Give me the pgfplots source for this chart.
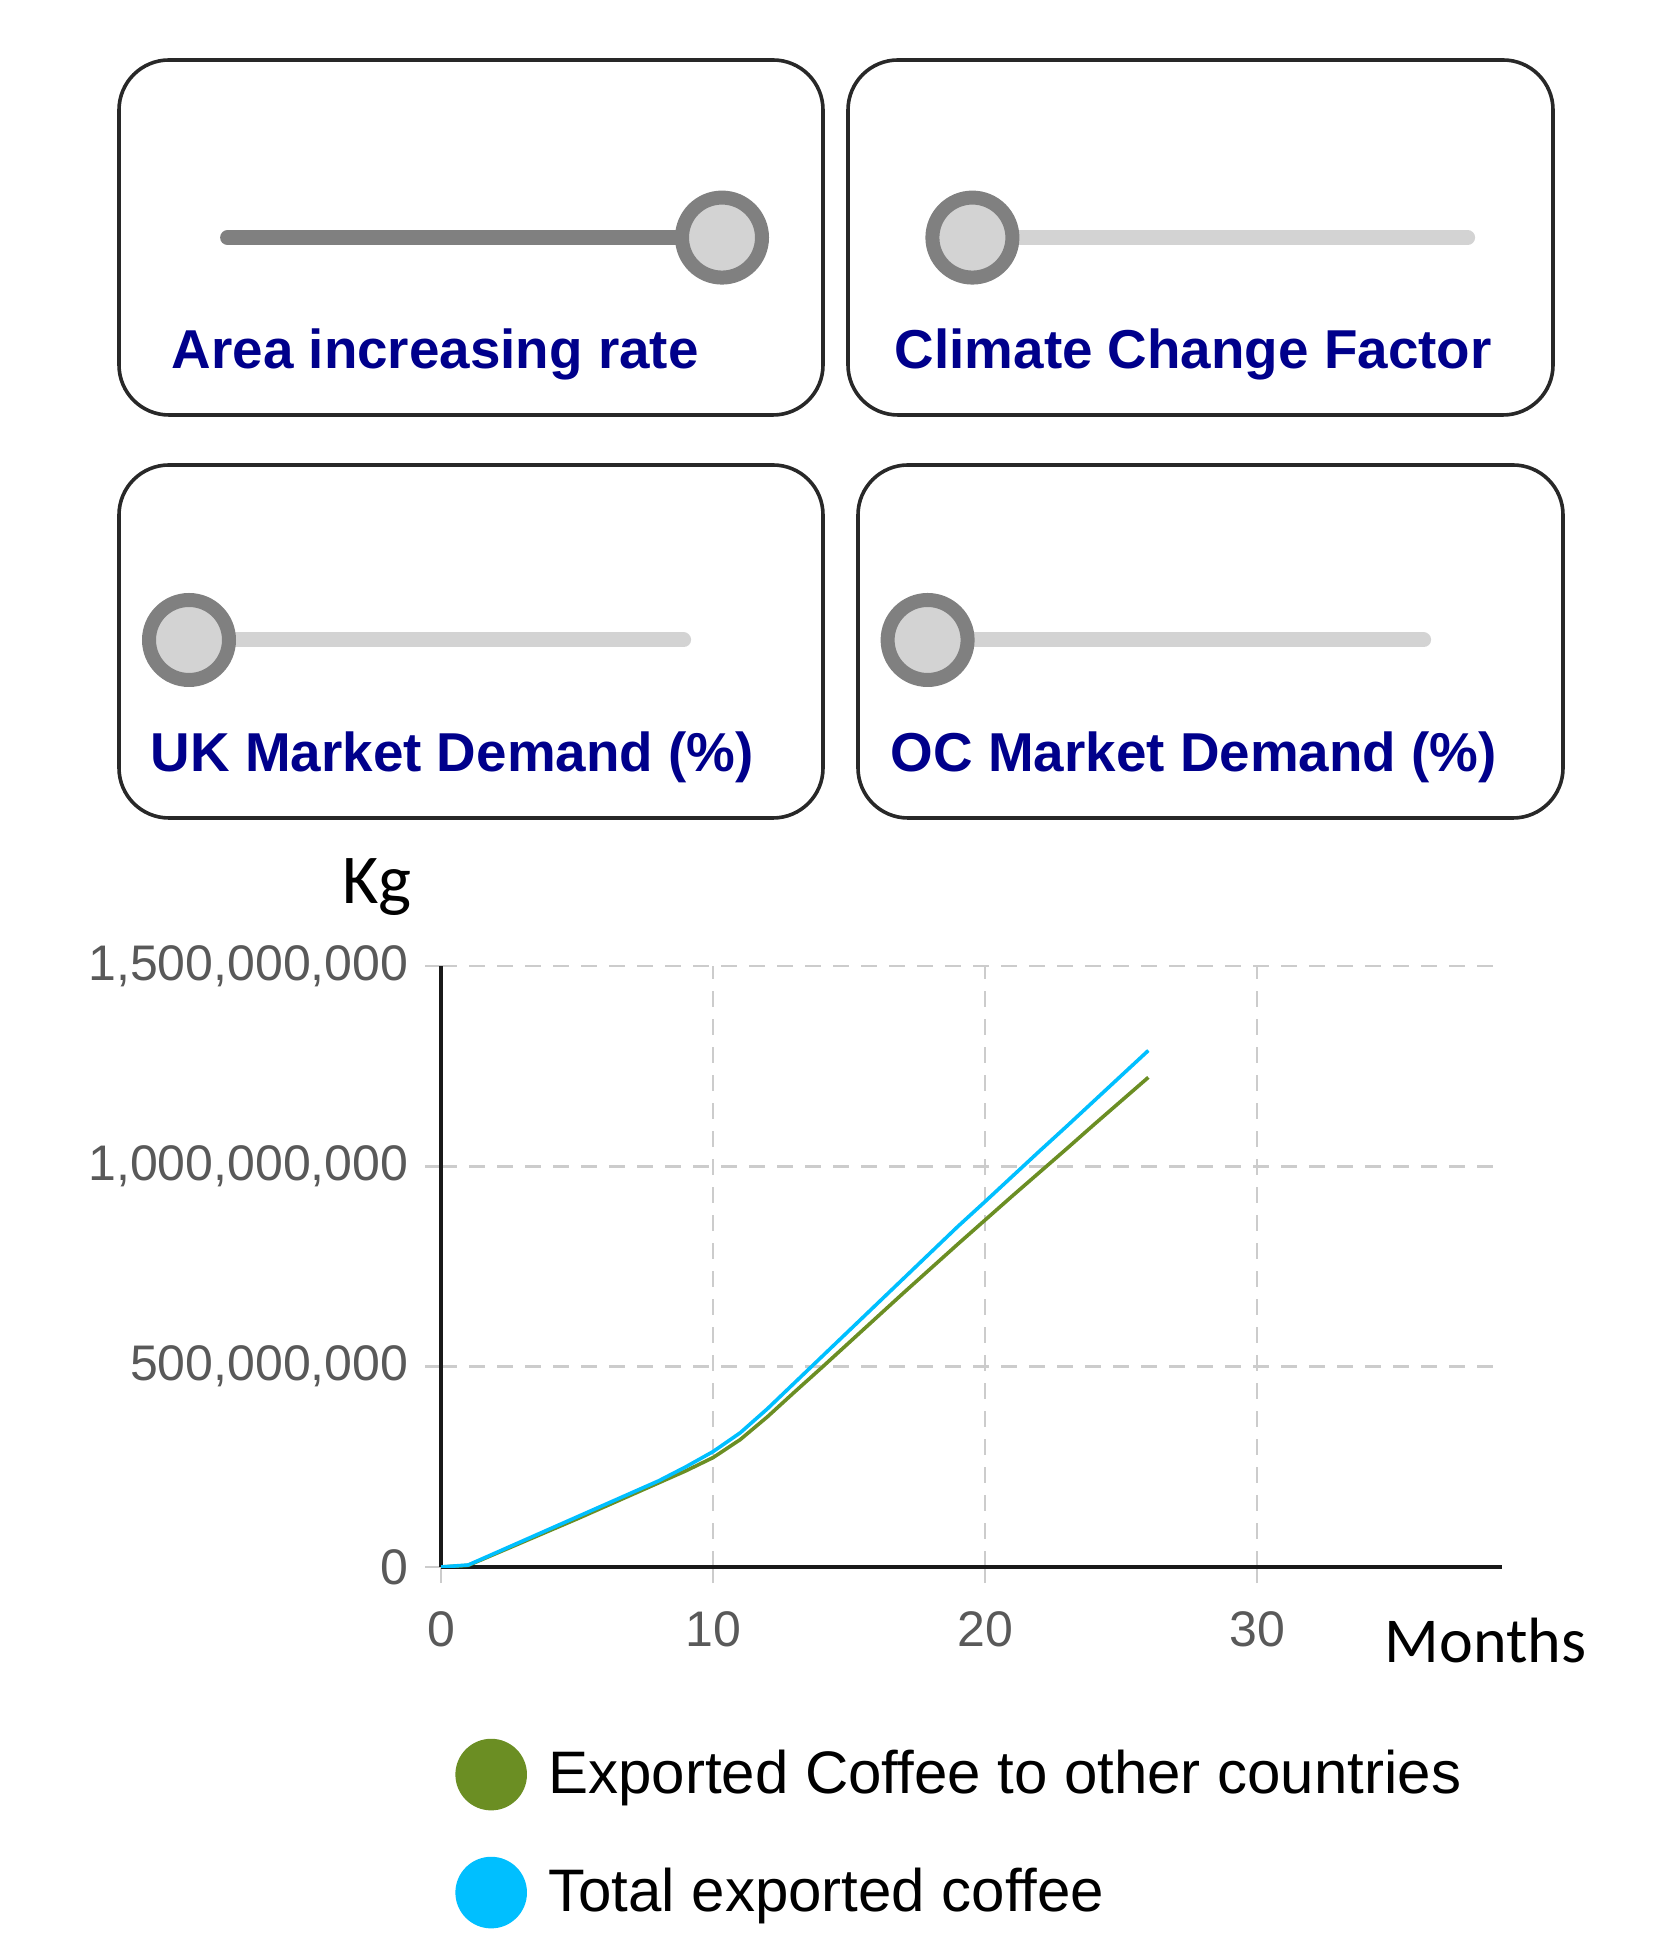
\documentclass[border=0pt]{standalone}
\usepackage{fontspec}
\setmainfont{Liberation Sans}
\newfontfamily\calibri{Carlito}
\usepackage{pgfplots}
\usepackage{pgfplotstable}
\pgfplotsset{compat=1.18}

\definecolor{navytext}{RGB}{0,0,139}
\definecolor{knobring}{RGB}{128,128,128}
\definecolor{knobfill}{RGB}{211,211,211}
\definecolor{olivegreen}{RGB}{107,142,35}
\definecolor{skyblue}{RGB}{0,191,255}
\definecolor{ticktext}{RGB}{89,89,89}
\definecolor{gridgray}{RGB}{204,204,204}
\definecolor{framegray}{RGB}{40,40,40}

% month, exported to other countries, total exported (kg)
\pgfplotstableread{
month other total
0 0 0
1 4000000 5000000
2 33000000 35000000
3 62000000 65000000
4 91000000 95000000
5 120000000 125000000
6 150000000 155000000
7 180000000 185000000
8 210000000 215000000
9 240000000 250000000
10 273000000 288000000
11 318000000 335000000
12 375000000 395000000
13 437000000 460000000
14 498000000 525000000
15 560000000 590000000
16 622000000 655000000
17 684000000 720000000
18 745000000 785000000
19 806000000 850000000
20 866000000 912000000
21 926000000 975000000
22 985000000 1038000000
23 1044000000 1100000000
24 1104000000 1163000000
25 1163000000 1226000000
26 1222000000 1289000000
}\coffee

\begin{document}
\begin{tikzpicture}
\useasboundingbox (0pt,0pt) rectangle (413.5pt,490pt);

% slider panels
\begin{scope}[line width=0.9pt, draw=framegray, rounded corners=12.5pt]
  \draw (29.75pt,386.25pt) rectangle (205.75pt,475pt);
  \draw (212pt,386.25pt) rectangle (388.25pt,475pt);
  \draw (29.75pt,285.5pt) rectangle (205.75pt,373.75pt);
  \draw (214.5pt,285.5pt) rectangle (390.75pt,373.75pt);
\end{scope}
\begin{scope}[line width=3.75pt, line cap=round]
  \draw[knobring] (56.9pt,430.6pt) -- (180.5pt,430.6pt);
  \draw[knobfill] (243.1pt,430.6pt) -- (366.9pt,430.6pt);
  \draw[knobfill] (47.25pt,330pt) -- (170.9pt,330pt);
  \draw[knobfill] (231.9pt,330pt) -- (355.9pt,330pt);
\end{scope}
\begin{scope}[line width=3.5pt, draw=knobring, fill=knobfill]
  \filldraw (180.5pt,430.6pt) circle (10pt);
  \filldraw (243.1pt,430.6pt) circle (10pt);
  \filldraw (47.25pt,330pt) circle (10pt);
  \filldraw (231.9pt,330pt) circle (10pt);
\end{scope}
\begin{scope}[every node/.style={anchor=base west, inner sep=0pt, text=navytext,
    font=\fontsize{13.7}{16}\selectfont\bfseries}]
  \node at (42.75pt,397.75pt) {Area increasing rate};
  \node at (223.5pt,397.75pt) {Climate Change Factor};
  \node at (37.5pt,297pt) {UK Market Demand (\%)};
  \node at (222.5pt,297pt) {OC Market Demand (\%)};
\end{scope}

\begin{axis}[
  at={(110.25pt,98.25pt)}, anchor=south west,
  scale only axis, width=265.25pt, height=150.25pt,
  xmin=0, xmax=39, ymin=0, ymax=1500000000,
  axis x line=bottom, axis y line=left,
  axis line style={-, line width=1pt, draw=black!90},
  xtick={0,10,20,30}, ytick={0,500000000,1000000000,1500000000},
  tick align=outside, major tick length=4pt,
  tick style={gridgray, line width=0.6pt},
  grid=major,
  major grid style={gridgray, line width=0.6pt, dash pattern=on 4pt off 3pt},
  scaled y ticks=false,
  ticklabel style={font=\fontsize{12.5}{14}\selectfont, text=ticktext, inner sep=0pt},
  yticklabel style={/pgf/number format/.cd, fixed, precision=0, 1000 sep={,},
    assume math mode=true, /tikz/.cd, xshift=-4pt},
  xticklabel style={/pgf/number format/assume math mode=true, yshift=-6.9pt},
  xlabel={Months}, ylabel={Kg},
  xlabel style={at={(axis description cs:0.9845,-0.1231)}, anchor=center,
    font=\calibri\fontsize{16}{19}\selectfont},
  ylabel style={rotate=-90, at={(axis description cs:-0.0603,1.1314)}, anchor=center,
    font=\calibri\fontsize{17.5}{20}\selectfont},
  legend cell align=left,
  legend style={at={(axis description cs:0.0128,-0.2845)}, anchor=north west,
    draw=none, fill=none, inner sep=0pt, row sep=11.6pt, column sep=5.35pt,
    nodes={inner sep=0pt}, font=\fontsize{15}{18}\selectfont},
]
\addplot[olivegreen, line width=0.9pt,
  legend image code/.code={\fill[olivegreen] (0pt,0pt) circle (8.5pt);}]
  table[x=month, y=other] {\coffee};
\addlegendentry{Exported Coffee to other countries}
\addplot[skyblue, line width=0.9pt,
  legend image code/.code={\fill[skyblue] (0pt,0pt) circle (8.5pt);}]
  table[x=month, y=total] {\coffee};
\addlegendentry{Total exported coffee}
\end{axis}
\end{tikzpicture}
\end{document}
